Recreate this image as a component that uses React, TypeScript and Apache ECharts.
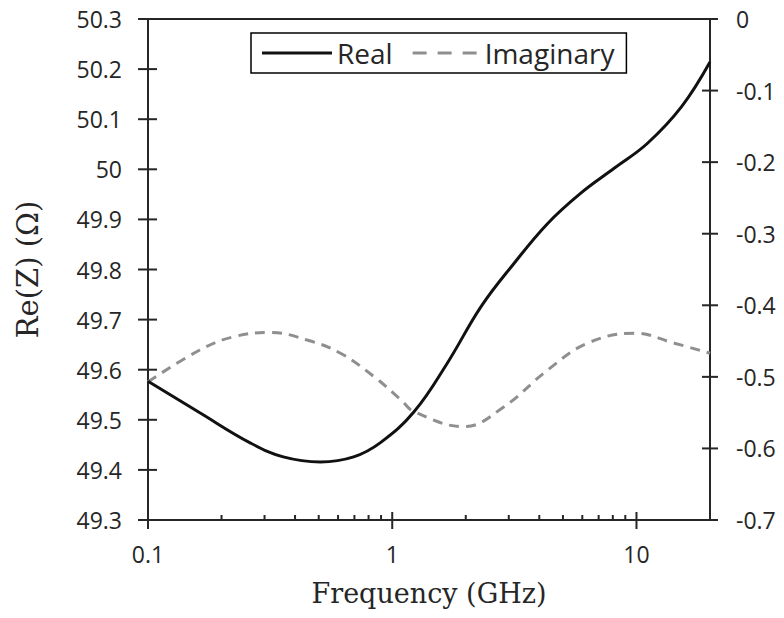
import React, { useEffect, useRef } from "react";
import * as echarts from "echarts";

const freqReal = [0.1, 0.163, 0.262, 0.358, 0.508, 0.695, 0.898, 1.228, 1.68, 2.31, 3.15, 4.33, 5.9, 8.1, 11.1, 15.3, 20];
const realZ = [49.577, 49.514, 49.454, 49.426, 49.416, 49.426, 49.455, 49.516, 49.613, 49.726, 49.812, 49.892, 49.952, 50.002, 50.052, 50.125, 50.214];

const freqImag = [0.1, 0.163, 0.224, 0.317, 0.448, 0.614, 0.843, 1.085, 1.228, 1.97, 2.87, 4.33, 6.3, 9.83, 14.3, 20];
const imagZ = [-0.507, -0.4625, -0.444, -0.438, -0.4485, -0.467, -0.4998, -0.532, -0.5487, -0.5696, -0.5417, -0.4904, -0.453, -0.439, -0.453, -0.467];

const xMajorTicks = [0.1, 1, 10];
const xMinorTicks = [0.2, 0.3, 0.4, 0.5, 0.6, 0.7, 0.8, 0.9, 2, 3, 4, 5, 6, 7, 8, 9];
const leftTicks = [49.3, 49.4, 49.5, 49.6, 49.7, 49.8, 49.9, 50, 50.1, 50.2, 50.3];
const rightTicks = [-0.7, -0.6, -0.5, -0.4, -0.3, -0.2, -0.1, 0];

const seriesNames = ["Real", "Imaginary"];
const xTitle = "Frequency (GHz)";
const yTitle = "Re(Z) (Ω)";

const AXIS = "#262626";
const REAL_COLOR = "#111111";
const IMAG_COLOR = "#8f8f8f";
const TICK_FONT = "'Open Sans', sans-serif";
const TITLE_FONT = "'DejaVu Serif', serif";

export default function App() {
  const ref = useRef<HTMLDivElement>(null);
  useEffect(() => {
    if (!ref.current) return;
    const chart = echarts.init(ref.current, undefined, { renderer: "svg" });
    const xMin = 0.1;
    const xMax = 20;
    const yMin = 49.3;
    const rMin = -0.7;
    const dashIcon = "path://M0,0h14v3h-14z M25,0h14v3h-14z M50,0h14v3h-14z";
    chart.setOption({
      animation: false,
      backgroundColor: "#fff",
      grid: {
        left: 148,
        right: 74,
        top: 19,
        bottom: 98,
        show: true,
        borderColor: AXIS,
        borderWidth: 2,
        backgroundColor: "transparent",
      },
      legend: {
        data: [
          { name: seriesNames[0], icon: "rect" },
          { name: seriesNames[1], icon: dashIcon },
        ],
        left: 251,
        top: 33,
        itemWidth: 70,
        itemHeight: 3,
        itemGap: 20,
        padding: [6, 12, 6, 11],
        borderColor: "#000",
        borderWidth: 1.5,
        backgroundColor: "#fff",
        textStyle: { fontFamily: TICK_FONT, fontSize: 28, color: AXIS },
      },
      xAxis: [
        {
          type: "log",
          logBase: 10,
          min: xMin,
          max: xMax,
          name: xTitle,
          nameLocation: "middle",
          nameGap: 60,
          nameTextStyle: { fontFamily: TITLE_FONT, fontSize: 27, color: AXIS },
          axisLine: { show: true, onZero: false, lineStyle: { color: AXIS, width: 2 } },
          axisTick: { show: false },
          splitLine: { show: false },
          minorTick: { show: false },
          axisLabel: {
            margin: 22,
            fontFamily: TICK_FONT,
            fontSize: 23,
            color: AXIS,
            formatter: (v: number) => {
              const l = Math.log10(v);
              if (Math.abs(l - Math.round(l)) > 1e-6) return "";
              const p = Math.pow(10, Math.round(l));
              return p >= 1 ? String(Math.round(p)) : p.toFixed(1);
            },
          },
        },
      ],
      yAxis: [
        {
          type: "value",
          position: "left",
          min: 49.3,
          max: 50.3,
          interval: 0.1,
          splitLine: { show: false },
          name: yTitle,
          nameLocation: "middle",
          nameRotate: 90,
          nameGap: 106,
          nameTextStyle: { fontFamily: TITLE_FONT, fontSize: 29, color: AXIS },
          axisLine: { show: true, onZero: false, lineStyle: { color: AXIS, width: 2 } },
          axisTick: { show: false },
          axisLabel: { margin: 26, fontFamily: TICK_FONT, fontSize: 23, color: AXIS },
        },
        {
          type: "value",
          position: "right",
          min: -0.7,
          max: 0,
          interval: 0.1,
          splitLine: { show: false },
          axisLine: { show: true, onZero: false, lineStyle: { color: AXIS, width: 2 } },
          axisTick: { show: false },
          axisLabel: { margin: 26, fontFamily: TICK_FONT, fontSize: 23, color: AXIS },
        },
      ],
      series: [
        {
          name: seriesNames[0],
          type: "line",
          xAxisIndex: 0,
          yAxisIndex: 0,
          smooth: 0.4,
          symbol: "none",
          data: freqReal.map((f, i) => [f, realZ[i]]),
          lineStyle: { color: REAL_COLOR, width: 3 },
          itemStyle: { color: REAL_COLOR },
          z: 3,
        },
        {
          name: seriesNames[1],
          type: "line",
          xAxisIndex: 0,
          yAxisIndex: 1,
          smooth: 0.4,
          symbol: "none",
          data: freqImag.map((f, i) => [f, imagZ[i]]),
          lineStyle: { color: IMAG_COLOR, width: 3, type: [10, 7] },
          itemStyle: { color: IMAG_COLOR },
          z: 2,
        },
      ],
    });

    // Tick marks placed through the chart's own scales.
    const pxL = (x: number, y: number) => chart.convertToPixel({ seriesIndex: 0 }, [x, y]) as number[];
    const pxR = (x: number, y: number) => chart.convertToPixel({ seriesIndex: 1 }, [x, y]) as number[];
    const seg = (x1: number, y1: number, x2: number, y2: number) => ({
      type: "line",
      silent: true,
      z: 100,
      shape: { x1, y1, x2, y2 },
      style: { stroke: AXIS, lineWidth: 2 },
    });
    const els: any[] = [];
    const origin = pxL(xMin, yMin);
    const y0 = origin[1];
    const x0 = origin[0];
    xMajorTicks.forEach((t) => {
      const x = pxL(t, yMin)[0];
      els.push(seg(x, y0 - 8, x, y0 + 9));
    });
    xMinorTicks.forEach((t) => {
      const x = pxL(t, yMin)[0];
      els.push(seg(x, y0 - 5, x, y0));
    });
    leftTicks.forEach((t) => {
      const y = pxL(xMin, t)[1];
      els.push(seg(x0 - 10, y, x0 + 9, y));
    });
    const xr = pxR(xMax, rMin)[0];
    rightTicks.forEach((t) => {
      const y = pxR(xMax, t)[1];
      els.push(seg(xr - 8, y, xr + 8, y));
    });
    chart.setOption({ graphic: { elements: els } });

    return () => chart.dispose();
  }, []);
  return (
    <div
      ref={ref}
      style={{ position: "fixed", left: 0, top: 0, width: 784, height: 618, background: "#fff" }}
    />
  );
}
